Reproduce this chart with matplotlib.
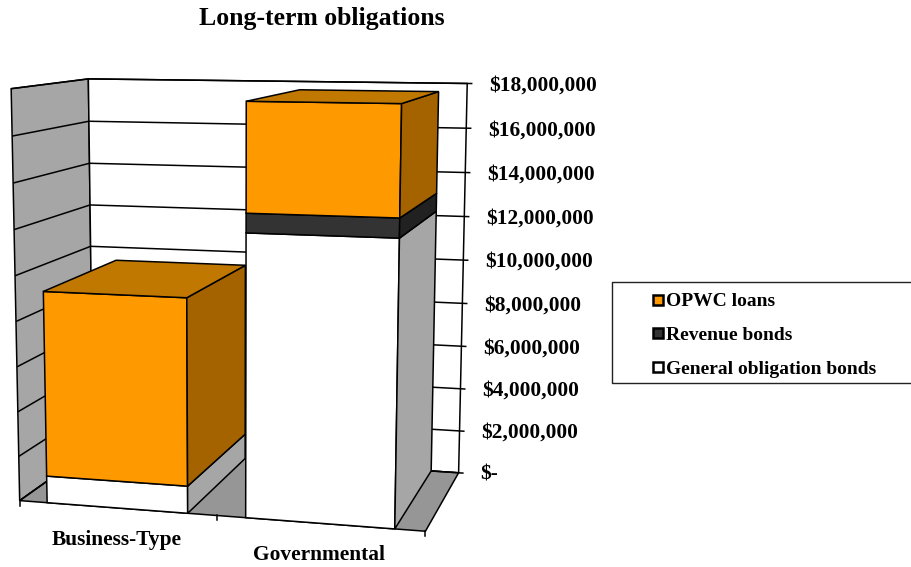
import numpy as np
import matplotlib
matplotlib.use("Agg")
import matplotlib.pyplot as plt

plt.rcParams['font.family'] = ['Liberation Serif', 'DejaVu Serif']
plt.rcParams['font.weight'] = 'bold'

# data
categories = ['Business-Type', 'Governmental']
general_bonds = [1200000, 12200000]
revenue_bonds = [0, 820000]
opwc_loans = [8170000, 4600000]
axis_ticks = [0, 2000000, 4000000, 6000000, 8000000, 10000000,
              12000000, 14000000, 16000000, 18000000]
tick_labels = ['$-', '$2,000,000', '$4,000,000', '$6,000,000', '$8,000,000',
               '$10,000,000', '$12,000,000', '$14,000,000', '$16,000,000', '$18,000,000']
series_names = ['OPWC loans', 'Revenue bonds', 'General obligation bonds']

axis_max = axis_ticks[-1]
gap = 0.143  # side gap inside a category slot

# pixel position of the 8 corners of the chart box, used to fit the 3d view
# (across, depth, height) -> (px, py)
box_world = [(0, 0, 0), (1, 0, 0), (1, 1, 0), (0, 1, 0),
             (0, 0, 1), (1, 0, 1), (1, 1, 1), (0, 1, 1)]
box_pixel = [(20, 500), (425, 532), (459, 472), (93, 449),
             (11, 89), (434, 94), (467, 84), (88.5, 78.5)]

rows = []
rhs = []
for (u, d, z), (px, py) in zip(box_world, box_pixel):
    rows.append([u, d, z, 1, 0, 0, 0, 0, -px * u, -px * d, -px * z])
    rhs.append(px)
    rows.append([0, 0, 0, 0, u, d, z, 1, -py * u, -py * d, -py * z])
    rhs.append(py)
cam = np.linalg.lstsq(np.array(rows), np.array(rhs), rcond=None)[0]
cam = np.append(cam, 1).reshape(3, 4)


def project(u, d, value):
    p = cam @ np.array([u, d, value / axis_max, 1.0])
    return p[0] / p[2], p[1] / p[2]


fig = plt.figure(figsize=(9.11, 5.67), dpi=100)
ax = fig.add_axes([0, 0, 1, 1])
ax.set_xlim(0, 911)
ax.set_ylim(567, 0)
ax.axis('off')


def face(points, color, lw=1.1, z=1):
    xy = [project(*p) for p in points]
    ax.fill([q[0] for q in xy], [q[1] for q in xy], facecolor=color,
            edgecolor='black', linewidth=lw, joinstyle='miter', zorder=z)


def seg(a, b, lw=1.1, z=1):
    p, q = project(*a), project(*b)
    ax.plot([p[0], q[0]], [p[1], q[1]], color='black', lw=lw, zorder=z,
            solid_capstyle='butt')


# walls and floor
face([(0, 0, 0), (0, 1, 0), (0, 1, axis_max), (0, 0, axis_max)], '#a6a6a6')
face([(0, 1, 0), (1, 1, 0), (1, 1, axis_max), (0, 1, axis_max)], 'white')
face([(0, 0, 0), (1, 0, 0), (1, 1, 0), (0, 1, 0)], '#969696')

for v, lab in zip(axis_ticks, tick_labels):
    seg((0, 0, v), (0, 1, v))
    seg((0, 1, v), (1, 1, v))
    seg((1, 1, v), (1.013, 1, v))
    tx, ty = project(1, 1, v)
    ax.text(tx + 22, ty + 2, lab, fontsize=15.4, ha='left', va='center')

# depth ticks under the front edge, category labels
for i in range(len(categories) + 1):
    u = i / len(categories)
    px, py = project(u, 0, 0)
    ax.plot([px, px], [py, py + 5], color='black', lw=1.1)
for i, name in enumerate(categories):
    px, py = project((i + 0.5) / len(categories), 0, 0)
    ax.text(px, py + 32, name, fontsize=15.4, ha='center', va='center')

# stacked bars, series bottom to top
shades = [('white', '#a6a6a6', '#bfbfbf'),
          ('#333333', '#212121', '#262626'),
          ('#ff9900', '#a56300', '#c07800')]
z = 2
for i in range(len(categories)):
    u0 = (i + gap) / len(categories)
    u1 = (i + 1 - gap) / len(categories)
    base = 0
    for vals, (front, side, top) in zip([general_bonds, revenue_bonds, opwc_loans], shades):
        h = vals[i]
        if h == 0:
            continue
        face([(u0, 0, base), (u1, 0, base), (u1, 0, base + h), (u0, 0, base + h)], front, z=z)
        face([(u1, 0, base), (u1, 1, base), (u1, 1, base + h), (u1, 0, base + h)], side, z=z)
        base += h
    face([(u0, 0, base), (u1, 0, base), (u1, 1, base), (u0, 1, base)], shades[2][2], z=z)
    z += 1

# title
ax.text(322, 19, 'Long-term obligations', fontsize=18.5, ha='center', va='center')

# legend
ax.plot([912, 612, 612, 912], [282, 282, 383, 383], color='#222222', lw=1.0, zorder=5)
for y, name, col in zip([300, 333, 367], series_names, ['#ff9900', '#333333', 'white']):
    ax.add_patch(plt.Rectangle((652.5, y - 5), 10, 10, facecolor=col, edgecolor='black', lw=1.8, zorder=6))
    ax.text(666, y + 2, name, fontsize=14, ha='left', va='center', zorder=6)

fig.savefig('out.png', dpi=100)
